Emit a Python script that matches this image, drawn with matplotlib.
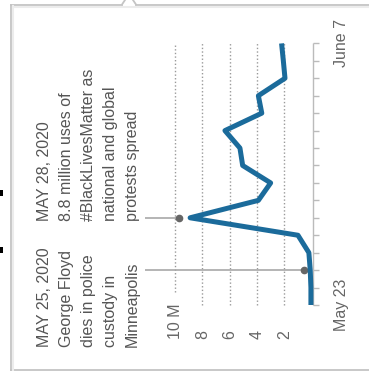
import matplotlib.pyplot as plt
from matplotlib.lines import Line2D
from matplotlib.patches import Rectangle

# days since May 23 (May 23 .. June 7), values in millions of uses
days = list(range(16))
uses = [0.05, 0.05, 0.1, 0.2, 1.0, 8.9, 3.9, 3.0, 5.05, 5.25, 6.35, 3.65, 3.9, 1.95, 2.07, 2.2]
grid_values = [2, 4, 6, 8, 10]
grid_labels = ['2', '4', '6', '8', '10 M']
date_labels = {0: 'May 23', 15: 'June 7'}
notes = [
    (2, 0.53, 'MAY 25, 2020\nGeorge Floyd\ndies in police\ncustody in\nMinneapolis'),
    (5, 9.7, 'MAY 28, 2020\n8.8 million uses of\n#BlackLivesMatter as\nnational and global\nprotests spread'),
]

W, H = 369, 371
GRAY = '#666666'
BLUE = '#1b6b9b'

def px(x, y):
    return x / W, 1 - y / H

fig = plt.figure(figsize=(W / 100, H / 100), dpi=100)
fig.patch.set_facecolor('white')
plt.rcParams['font.family'] = ['Liberation Sans', 'DejaVu Sans']

# axes: x = value (0 on the right), y = day (May 23 at bottom)
left, right, top, bottom = 160, 330, 30, 320
ax = fig.add_axes([left / W, 1 - bottom / H, (right - left) / W, (bottom - top) / H])
x0, xs = 311.6, 13.65
y0, ys = 305.0, 17.44
ax.set_xlim((x0 - left) / xs, (x0 - right) / xs)
ax.set_ylim((y0 - bottom) / ys, (y0 - top) / ys)
ax.axis('off')

# dotted gridlines
for v in grid_values:
    lo = 0.75 if v == 10 else 0
    ax.vlines(v, lo, 15, colors='#9a9a9a', linestyles=(0, (1, 1.6)), lw=1.0)

# date axis with ticks
ax.vlines(-0.08, 0, 15, colors='#bbbbbb', lw=1.0)
ax.hlines(days, -0.08, -0.55, colors='#bbbbbb', lw=1.0)

# annotation leader lines and dots
for d, v, txt in notes:
    ax.hlines(d, 12.2, v, colors='#a8a8a8', lw=1.2, clip_on=False)
    ax.plot(v, d, 'o', color='#666666', ms=4.5, clip_on=False)

ax.plot(uses, days, color=BLUE, lw=3.6, solid_joinstyle='round',
        solid_capstyle='butt', zorder=5)

# value labels
for v, lab in zip(grid_values, grid_labels):
    ax.text(v, -1.95, lab, rotation=90, ha='center', va='bottom',
            fontsize=11.5, color=GRAY, clip_on=False)

# date labels
for d, lab in date_labels.items():
    ax.text(-2.2, d, lab, rotation=90, ha='center', va='center',
            fontsize=11.5, color=GRAY, clip_on=False)

# annotation texts
fig.text(*px(37, 347), notes[0][2], rotation=90, ha='left', va='bottom',
         multialignment='left', fontsize=11.5, color='#555555', linespacing=1.58)
fig.text(*px(37, 221), notes[1][2], rotation=90, ha='left', va='bottom',
         multialignment='left', fontsize=11.5, color='#555555', linespacing=1.58)

# callout frame
border = '#c4c4c4'
for xs_, ys_ in [([11, 122], [4.5, 4.5]), ([122, 125], [4.5, 0]),
                 ([136, 369], [4.5, 4.5]), ([136, 133], [4.5, 0]),
                 ([11, 11], [4.5, 371]), ([11, 369], [369.5, 369.5])]:
    fig.add_artist(Line2D([x / W for x in xs_], [1 - y / H for y in ys_],
                          color=border, lw=1.3))
fig.add_artist(Line2D([13 / W, 13 / W], [1 - 6 / H, 0], color='#ececec', lw=1.5))
fig.add_artist(Line2D([13 / W, 1], [1 - 7 / H, 1 - 7 / H], color='#ececec', lw=1.5))

# fragments of outside text at the left edge
for yy in [190, 247]:
    fig.add_artist(Rectangle(px(0, yy + 6), 3 / W, 6 / H, color='black', lw=0))

fig.savefig('out.png', dpi=100)
